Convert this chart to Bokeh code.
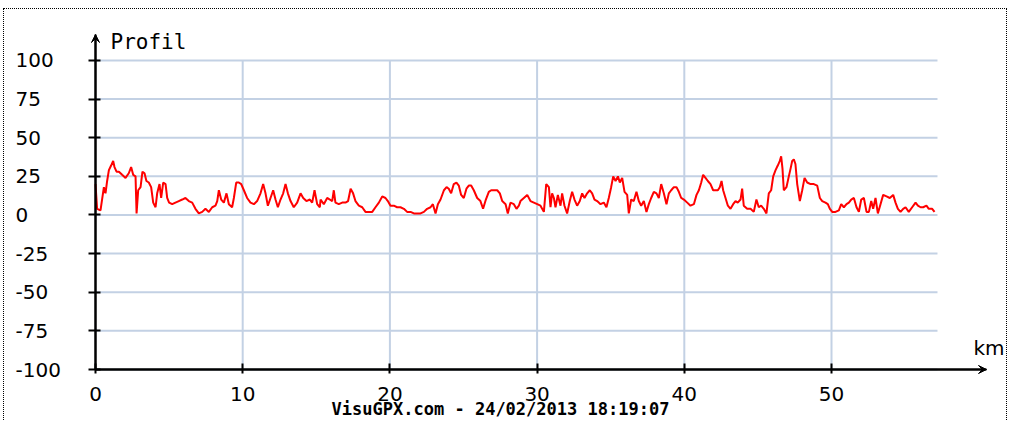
from bokeh.plotting import figure
from bokeh.models import Range1d, FixedTicker, Label, Arrow, VeeHead
from bokeh.core.properties import value
from bokeh.embed import file_html
from bokeh.resources import INLINE

# ---- data (distance in km, profile value) ----
km = [0.0, 0.11, 0.34, 0.57, 0.68, 0.79, 0.91, 1.06, 1.2, 1.29, 1.43, 1.59, 1.81, 2.04, 2.26, 2.42,
      2.56, 2.72, 2.79, 2.9, 3.06, 3.19, 3.33, 3.46, 3.62, 3.78, 3.92, 4.08, 4.19, 4.35, 4.46, 4.6,
      4.76, 4.87, 5.0, 5.21, 5.43, 5.66, 5.89, 6.11, 6.34, 6.57, 6.79, 7.02, 7.25, 7.47, 7.7, 7.93,
      8.15, 8.27, 8.38, 8.54, 8.72, 8.9, 9.06, 9.28, 9.4, 9.56, 9.74, 9.9, 10.08, 10.3, 10.53, 10.76,
      10.98, 11.21, 11.39, 11.55, 11.71, 11.89, 12.07, 12.23, 12.39, 12.57, 12.75, 12.91, 13.07, 13.25,
      13.47, 13.7, 13.93, 14.11, 14.33, 14.56, 14.72, 14.88, 15.06, 15.24, 15.29, 15.51, 15.74, 15.92,
      16.08, 16.19, 16.3, 16.53, 16.76, 16.98, 17.16, 17.33, 17.5, 17.66, 17.89, 18.12, 18.34, 18.57,
      18.8, 19.02, 19.25, 19.48, 19.7, 19.86, 20.04, 20.27, 20.49, 20.72, 20.95, 21.17, 21.4, 21.63,
      21.85, 22.08, 22.31, 22.53, 22.76, 22.92, 23.1, 23.26, 23.44, 23.67, 23.85, 24.0, 24.16, 24.34,
      24.52, 24.68, 24.84, 25.02, 25.2, 25.36, 25.52, 25.7, 25.93, 26.15, 26.33, 26.52, 26.72, 26.88,
      27.06, 27.29, 27.47, 27.63, 27.86, 28.01, 28.19, 28.42, 28.6, 28.76, 28.87, 29.1, 29.33, 29.55,
      29.78, 30.01, 30.23, 30.46, 30.62, 30.8, 30.91, 31.02, 31.14, 31.25, 31.41, 31.59, 31.7, 31.86,
      32.04, 32.22, 32.38, 32.54, 32.72, 32.9, 33.06, 33.22, 33.4, 33.58, 33.74, 33.9, 34.08, 34.31,
      34.53, 34.71, 34.87, 35.03, 35.17, 35.33, 35.49, 35.62, 35.78, 35.94, 36.12, 36.23, 36.39, 36.57,
      36.75, 36.91, 37.07, 37.25, 37.43, 37.59, 37.75, 37.93, 38.11, 38.27, 38.43, 38.61, 38.79, 38.95,
      39.11, 39.29, 39.47, 39.63, 39.79, 39.97, 40.2, 40.42, 40.65, 40.83, 40.99, 41.15, 41.28, 41.44,
      41.6, 41.78, 41.96, 42.12, 42.28, 42.41, 42.53, 42.64, 42.8, 42.96, 43.14, 43.32, 43.48, 43.63,
      43.82, 43.93, 44.04, 44.27, 44.5, 44.72, 44.9, 45.06, 45.22, 45.4, 45.58, 45.74, 45.9, 46.04,
      46.2, 46.35, 46.49, 46.58, 46.67, 46.76, 46.94, 47.1, 47.22, 47.33, 47.44, 47.55, 47.67, 47.85,
      48.01, 48.17, 48.35, 48.58, 48.8, 49.03, 49.21, 49.37, 49.59, 49.75, 49.89, 50.05, 50.27, 50.5,
      50.66, 50.84, 51.02, 51.18, 51.34, 51.52, 51.7, 51.86, 52.02, 52.2, 52.38, 52.54, 52.7, 52.83,
      52.99, 53.15, 53.33, 53.51, 53.74, 53.96, 54.19, 54.35, 54.51, 54.69, 54.87, 55.03, 55.25, 55.48,
      55.71, 55.87, 56.05, 56.23, 56.45, 56.61, 56.84, 57.0]

profil = [20, 4, 3, 18, 14, 22, 29, 32, 35, 31, 28, 28, 26, 24, 27, 31,
          26, 25, 1, 16, 18, 28, 27, 22, 21, 18, 8, 5, 14, 20, 11, 21,
          20, 11, 8, 7, 8, 9, 10, 11, 9, 8, 4, 1, 2, 4, 2, 5,
          6, 9, 16, 10, 8, 14, 7, 5, 11, 21, 21, 20, 16, 11, 8, 7,
          9, 14, 20, 14, 6, 11, 16, 10, 5, 10, 14, 20, 14, 9,
          5, 8, 14, 11, 9, 10, 8, 16, 7, 5, 10, 7, 11, 10,
          9, 16, 8, 7, 8, 8, 9, 17, 14, 9, 6, 5, 2, 2,
          2, 5, 8, 12, 11, 9, 6, 6, 5, 5, 4, 2, 2, 1,
          1, 1, 2, 4, 5, 7, 1, 7, 10, 16, 18, 17, 14, 20,
          21, 19, 13, 11, 17, 19, 19, 16, 11, 9, 4, 10, 15, 16,
          16, 16, 14, 9, 7, 1, 8, 7, 4, 6, 9, 11, 13, 9,
          8, 7, 6, 2, 20, 18, 5, 14, 11, 5, 13, 6, 14, 6,
          1, 9, 15, 10, 6, 9, 14, 11, 14, 16, 14, 10, 9, 7,
          8, 5, 11, 18, 25, 22, 25, 21, 24, 15, 13, 1, 10, 9,
          15, 9, 6, 9, 2, 7, 11, 15, 14, 11, 20, 14, 7, 14,
          16, 18, 18, 15, 11, 10, 8, 6, 7, 13, 16, 21, 26, 24,
          22, 20, 16, 16, 16, 18, 22, 16, 11, 6, 4, 7, 9, 8,
          10, 17, 6, 4, 4, 2, 10, 5, 6, 4, 1, 14, 16, 25,
          29, 32, 35, 38, 30, 16, 18, 25, 30, 35, 36, 33, 20, 9,
          16, 24, 21, 20, 20, 19, 11, 9, 8, 7, 4, 2, 2, 3,
          7, 5, 7, 8, 10, 11, 5, 2, 10, 11, 2, 2, 9, 4,
          11, 1, 7, 13, 12, 11, 13, 8, 4, 2, 4, 5, 2, 5,
          8, 6, 5, 5, 6, 4, 4, 2]

x_ticks = [0, 10, 20, 30, 40, 50]
y_ticks = [-100, -75, -50, -25, 0, 25, 50, 75, 100]
y_tick_labels = ["-100", "-75", "-50", "-25", "0", "25", "50", "75", "100"]

# ---- layout constants ----
W, H = 1004, 412
PX_PER_KM = 14.72
PX_PER_UNIT = 1.5452
AXIS_X_PX = 91          # canvas x of km = 0
AXIS_Y_PX = 360         # canvas y of value = -100
X_END = 60.53           # arrow tip of the km axis
Y_TOP = 116.8           # arrow tip of the profile axis
GRID_X_END = 57.2       # right end of horizontal grid lines
GRID = "#c3d1e4"

x0 = -AXIS_X_PX / PX_PER_KM
x1 = (W - AXIS_X_PX) / PX_PER_KM
y0 = -100 - (H - AXIS_Y_PX) / PX_PER_UNIT
y1 = -100 + AXIS_Y_PX / PX_PER_UNIT

p = figure(width=W, height=H, output_backend="svg", toolbar_location=None,
           title=None, x_range=Range1d(x0, x1), y_range=Range1d(y0, y1),
           min_border=0)
p.styles = {"margin-left": "3px", "margin-top": "8px",
            "border-top": "1px dotted #000", "border-left": "1px dotted #000",
            "border-right": "1px dotted #000"}
p.outline_line_color = None
p.background_fill_color = "white"
p.border_fill_color = "white"
p.xgrid.visible = False
p.ygrid.visible = False

# grid lines (bounded like the original)
p.segment(x0=[x_ticks[0]] * len(y_ticks), y0=y_ticks,
          x1=[GRID_X_END] * len(y_ticks), y1=y_ticks,
          line_color=GRID, line_width=2)
p.segment(x0=x_ticks[1:], y0=[y_ticks[0]] * (len(x_ticks) - 1),
          x1=x_ticks[1:], y1=[y_ticks[-1]] * (len(x_ticks) - 1),
          line_color=GRID, line_width=2)

p.line(km, profil, line_color="#ff0000", line_width=2)

for ax in (p.xaxis[0], p.yaxis[0]):
    ax.axis_line_color = "black"
    ax.axis_line_width = 2
    ax.major_tick_line_color = "black"
    ax.major_tick_line_width = 2
    ax.minor_tick_line_color = None
    ax.major_label_text_font = "DejaVu Sans"
    ax.major_label_text_font_size = "20px"
    ax.major_label_text_color = "#000000"

p.xaxis.fixed_location = -100
p.xaxis.bounds = (0, X_END)
p.xaxis.ticker = FixedTicker(ticks=x_ticks)
p.xaxis.major_tick_in = 6
p.xaxis.major_tick_out = 4
p.xaxis.major_label_standoff = 13

p.yaxis.fixed_location = 0
p.yaxis.bounds = (-100, Y_TOP)
p.yaxis.ticker = FixedTicker(ticks=y_ticks)
p.yaxis.major_tick_in = 5
p.yaxis.major_tick_out = 7
p.yaxis.major_label_text_color = None   # labels drawn left-aligned below

# left-aligned y tick labels, as in the original
p.text(x=[0] * len(y_ticks), y=y_ticks, text=y_tick_labels, x_offset=-80,
       text_align="left", text_baseline="middle", text_color="#000000",
       text_font=value("DejaVu Sans"), text_font_size="20px")

# arrow heads
p.add_layout(Arrow(end=VeeHead(size=8, fill_color="black", line_color="black", line_width=1),
                   x_start=0, y_start=-100, x_end=X_END, y_end=-100,
                   line_color="black", line_width=2))
p.add_layout(Arrow(end=VeeHead(size=8, fill_color="black", line_color="black", line_width=1),
                   x_start=0, y_start=-100, x_end=0, y_end=Y_TOP,
                   line_color="black", line_width=2))

p.add_layout(Label(x=0, y=Y_TOP, x_offset=15, y_offset=-7, text="Profil",
                   text_font="DejaVu Sans Mono", text_font_size="21px",
                   text_color="#000000", text_baseline="alphabetic", text_align="left"))
p.add_layout(Label(x=X_END, y=-100, x_offset=-13, y_offset=22, text="km",
                   text_font="DejaVu Sans", text_font_size="20px",
                   text_color="#000000", text_baseline="alphabetic", text_align="left"))
p.add_layout(Label(x=0, y=-100, x_offset=405, y_offset=-39,
                   text="VisuGPX.com - 24/02/2013 18:19:07",
                   text_font="DejaVu Sans Mono", text_font_style="bold", text_font_size="17px",
                   text_color="#000000", text_baseline="alphabetic", text_align="center"))

open("out.html", "w").write(file_html(p, INLINE))
